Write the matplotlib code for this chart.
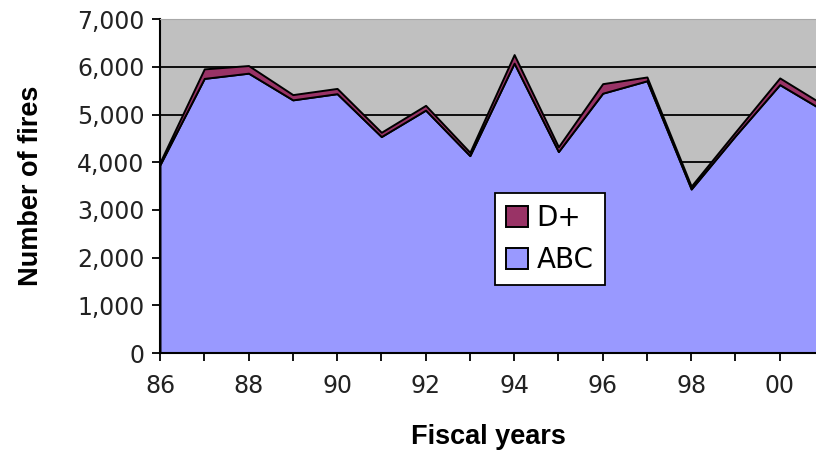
"""
Stacked area chart of the number of fires per fiscal year, by class.
"""

import numpy as np
import matplotlib
matplotlib.use("Agg")
import matplotlib.pyplot as plt
from matplotlib.ticker import FuncFormatter, MultipleLocator

years = ["86", "87", "88", "89", "90", "91", "92", "93",
         "94", "95", "96", "97", "98", "99", "00", "01"]
abc = [3950, 5760, 5870, 5310, 5440, 4540, 5095, 4140,
       6080, 4225, 5450, 5710, 3440, 4560, 5630, 5080]
dplus = [50, 200, 160, 110, 110, 90, 100, 70,
         180, 100, 200, 80, 60, 80, 140, 120]

if __name__ == "__main__":
    fig = plt.figure(figsize=(8.16, 4.65), dpi=100)
    # plot area runs past the right edge of the figure, as in the original export
    ax = fig.add_axes([160/816, 1-353/465, (824-160)/816, (353-19.3)/465])
    ax.set_facecolor("#C0C0C0")

    x = np.arange(len(years))
    ax.stackplot(x, abc, dplus, colors=["#9999FF", "#993366"],
                 edgecolor="black", linewidth=1.4, labels=["ABC", "D+"], zorder=2)

    ax.set_xlim(0, len(years)-1)
    ax.set_ylim(0, 7000)
    ax.yaxis.set_major_locator(MultipleLocator(1000))
    ax.yaxis.set_major_formatter(FuncFormatter(lambda v, p: f"{int(v):,}"))
    ax.grid(axis="y", color="black", linewidth=1.3, zorder=1)
    ax.set_axisbelow(True)

    ax.set_xticks(x)
    ax.set_xticklabels([y if i % 2 == 0 else "" for i, y in enumerate(years)])

    for s in ("left", "bottom"):
        ax.spines[s].set_linewidth(1.5)
    ax.spines["top"].set_color("#A8A8A8")
    ax.spines["right"].set_visible(False)
    ax.tick_params(axis="both", direction="out", length=6, width=1.3,
                   labelsize=17, colors="black")
    ax.tick_params(axis="x", pad=9)
    ax.tick_params(axis="y", pad=5)
    for lab in ax.get_xticklabels() + ax.get_yticklabels():
        lab.set_color("#222222")

    ax.set_ylabel("Number of fires", fontsize=19.5, fontweight="bold",
                  family="Liberation Sans")
    ax.yaxis.set_label_coords(-116/664, 0.5)
    fig.text(488/816, 1-437/465, "Fiscal years", fontsize=19.5, fontweight="bold",
             family="Liberation Sans", ha="center", va="center")

    handles, labels = ax.get_legend_handles_labels()
    leg = ax.legend(handles[::-1], labels[::-1], loc="upper left",
                    bbox_to_anchor=(495/816, 1-193/465), bbox_transform=fig.transFigure,
                    fontsize=20, frameon=True, fancybox=False, framealpha=1,
                    edgecolor="black", handlelength=0.8, handleheight=0.8,
                    handletextpad=0.3, borderpad=0.4, labelspacing=0.5,
                    borderaxespad=0)
    leg.get_frame().set_linewidth(1.3)

    plt.savefig("out.png", dpi=100)
